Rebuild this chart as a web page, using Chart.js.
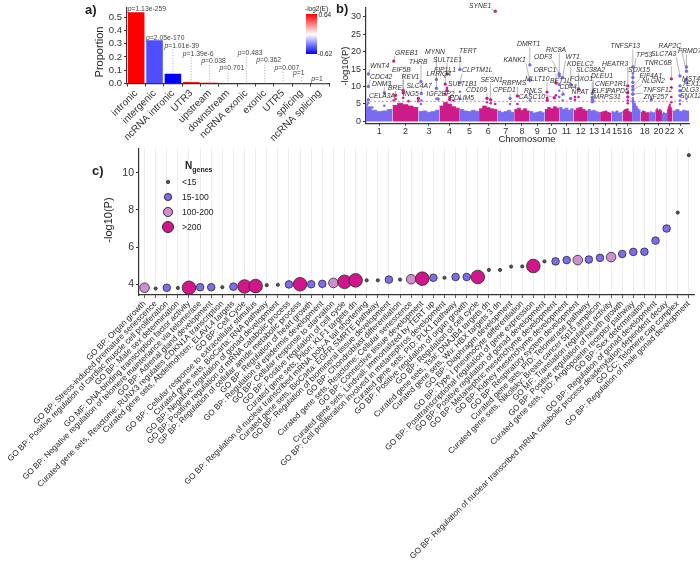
<!DOCTYPE html>
<html>
<head>
<meta charset="utf-8">
<title>Variant annotation, Manhattan plot and enrichment</title>
<script src="https://cdn.jsdelivr.net/npm/chart.js@4.4.1/dist/chart.umd.min.js"></script>
<style>
  body { margin: 0; background: #fff; font-family: "Liberation Sans", Arial, sans-serif; color: #222; }
  #page { position: relative; width: 700px; height: 574px; overflow: hidden; }
  canvas { position: absolute; }
  .txt { position: absolute; white-space: nowrap; line-height: 1; }
  .letter { font-weight: bold; font-size: 13px; }
  .vert { transform: translate(-50%, -50%) rotate(-90deg); }
  .dot { position: absolute; border-radius: 50%; box-sizing: border-box; border: 0.8px solid #2a2a2a; }
</style>
</head>
<body>
<div id="page">
  <canvas id="panelA" width="262" height="152" style="left:84px;top:0"></canvas>
  <canvas id="panelB" width="364" height="146" style="left:336px;top:0"></canvas>
  <canvas id="panelC" width="700" height="434" style="left:0;top:140px"></canvas>

  <div class="txt letter" style="left:85px;top:3px">a)</div>
  <div class="txt vert" style="left:99px;top:52px;font-size:11px">Proportion</div>
  <div class="txt" style="left:305px;top:6px;font-size:6.5px">-log2(E)</div>
  <div style="position:absolute;left:306px;top:14px;width:11px;height:40px;background:linear-gradient(to bottom,#ff0000 0%,#ffffff 51%,#0000ff 100%)"></div>
  <div class="txt" style="left:318.5px;top:11.5px;font-size:6.5px">0.64</div>
  <div class="txt" style="left:317.5px;top:50.5px;font-size:6.5px">-0.62</div>

  <div class="txt letter" style="left:336px;top:2px">b)</div>
  <div class="txt vert" style="left:345px;top:66px;font-size:9.5px">-log10(P)</div>
  <div class="txt" style="left:527px;top:139px;font-size:9.5px;transform:translate(-50%,-50%)">Chromosome</div>

  <div class="txt letter" style="left:92px;top:164px">c)</div>
  <div class="txt vert" style="left:108px;top:220px;font-size:11px">-log10(P)</div>
  <div id="legendC"></div>
</div>

<script>
Chart.defaults.font.family = '"Liberation Sans", Arial, sans-serif';
Chart.defaults.color = '#333';
Chart.defaults.animation = false;

// ---------- a) genomic context ----------
const regionLabels = ['intronic', 'intergenic', 'ncRNA intronic', 'UTR3', 'upstream', 'downstream',
  'ncRNA exonic', 'exonic', 'UTR5', 'splicing', 'ncRNA splicing'];
const regionProportion = [0.535, 0.326, 0.074, 0.012, 0.009, 0.004, 0.003, 0.003, 0.002, 0.001, 0.0005];
const regionLog2E = [0.64, -0.43, -0.62, 0.58, 0.26, 0.12, -0.15, -0.12, 0.1, 0.03, -0.2];
const regionPval = ['1.13e-259', '2.05e-170', '1.01e-39', '1.39e-6', '0.038', '0.701', '0.483', '0.362', '0.007', '1', '1'];

// ---------- b) manhattan ----------
const chromosomes = ['1','2','3','4','5','6','7','8','9','10','11','12','13','14','15','16','17','18','19','20','21','22','X'];
const chrLengthMb = [249, 243, 198, 191, 181, 171, 159, 146, 141, 136, 135, 134, 115, 107, 103, 90, 81, 78, 59, 63, 48, 51, 155];
const chrUnlabelled = ['17', '19', '21'];
// upper edge of the dense band of SNPs, read in 5 steps along each chromosome
const massTop = [
  [4.2, 3.2, 2.8, 3.0, 3.4], [4.6, 5.2, 4.8, 4.4, 4.0], [2.8, 3.0, 2.6, 2.8, 3.2], [4.4, 5.4, 5.0, 4.2, 3.8],
  [3.4, 3.0, 2.8, 3.2, 2.9], [3.6, 4.4, 4.0, 3.6, 3.4], [3.0, 2.6, 2.8, 3.2, 2.6], [3.4, 3.8, 3.2, 3.6, 3.0],
  [2.8, 2.4, 2.6, 2.8, 2.5], [3.4, 4.0, 3.6, 4.2, 3.8], [4.0, 3.4, 3.8, 3.2, 3.6], [3.2, 3.8, 4.0, 3.4, 3.0],
  [3.4, 3.0, 3.2, 2.8, 2.6], [2.6, 2.8, 3.0, 2.6, 2.4], [2.8, 2.6, 3.0, 2.4, 2.6], [3.0, 3.4, 3.6, 2.8, 2.6],
  [5.6, 5.2, 4.4, 3.6, 3.2], [2.6, 3.0, 2.8, 2.4, 2.6], [2.4, 2.8, 2.6, 2.4, 2.6], [3.2, 3.6, 3.0, 3.4, 3.0],
  [2.2, 2.6, 2.4, 2.2, 2.4], [3.4, 4.2, 5.0, 4.0, 3.2], [3.0, 3.4, 2.8, 3.2, 3.0]
];
// loose SNPs above the band
const looseChr = ['1','1','1','1','2','2','2','2','2','3','3','3','4','4','4','4','5','5','6','6','6','7','8','9','9',
  '10','10','10','11','11','11','12','12','12','13','13','16','16','17','17','17','17','17','17','22','22','22','X','X','X','X'];
const loosePosMb = [10, 22, 60, 172, 11, 28, 100, 150, 242, 24, 27, 169, 54, 70, 95, 130, 1.3, 1.3, 74, 109, 152, 120, 30, 0.8, 0.8,
  21.8, 23.5, 105, 0.2, 0.2, 32, 12, 12, 46, 41, 50, 50, 50, 7.5, 7.5, 7.5, 7.5, 7.5, 10, 40, 40, 40, 70, 70, 131, 131];
const looseLogP = [4.8, 5.3, 4.0, 4.5, 6.0, 6.4, 6.8, 5.8, 5.8, 5.0, 6.0, 6.5, 7.8, 9.6, 7.0, 6.0, 6.5, 8.5, 5.5, 5.2, 5.0, 5.0, 5.0, 6.0, 8.0,
  6.5, 6.8, 7.5, 7.0, 8.8, 6.0, 6.2, 7.0, 7.0, 5.5, 5.8, 5.2, 6.0, 6.0, 6.6, 8.0, 9.2, 13.8, 5.5, 5.5, 7.0, 9.8, 5.0, 6.0, 6.5, 11.0];
const hitGene = ['WNT4','CDC42','DNM3','CELA3A','GREB1','EIF5B','REV1','BRE','ING5','THRB','SLC4A7','MYNN','LRRIQ4','IGF2BP2',
  'SULT1E1','FIP1L1','SULT1B1','PDLIM5','TERT','CLPTM1L','SYNE1','CD109','SESN1','CPED1','RBPMS','DMRT1','KANK1',
  'MLLT10','CASC10','RNLS','OBFC1','ODF3','RIC8A','BET1L','WT1','CD44','KDELC2','NPAT','SLC38A2','FOXO1','ELF1','MRPS31',
  'DLEU1','HEATR3','CNEP1R1','PAPD5','TNFSF13','TP53','SOX15','EIF4A1','NLGN2','TNFSF12','ZNF257','TNRC6B',
  'RAP2C','FRMD7','SLC7A3','MST4','TEX11','DLG3','SNX12'];
const hitChr = ['1','1','1','1','2','2','2','2','2','3','3','3','3','3',
  '4','4','4','4','5','5','6','6','6','7','8','9','9',
  '10','10','10','10','11','11','11','11','11','11','11','12','13','13','13',
  '13','16','16','16','17','17','17','17','17','17','19','22',
  'X','X','X','X','X','X','X'];
const hitPosMb = [22.4, 22.4, 172.0, 22.3, 11.7, 100.0, 100.1, 28.2, 242.6, 24.2, 27.4, 169.5, 169.5, 185.5,
  70.7, 54.2, 70.6, 95.5, 1.3, 1.35, 152.5, 74.4, 109.3, 120.6, 30.0, 0.9, 0.7,
  21.8, 23.5, 90.1, 105.6, 0.2, 0.2, 0.2, 32.4, 35.2, 108.3, 108.0, 46.7, 41.1, 41.5, 41.3,
  50.9, 50.1, 50.0, 50.2, 7.46, 7.57, 7.49, 7.48, 7.31, 7.45, 22.2, 40.4,
  131.3, 131.2, 70.1, 131.2, 70.0, 69.7, 70.3];
const hitLogP = [13.6, 10.0, 8.2, 6.2, 17.3, 8.9, 8.2, 7.5, 6.6, 11.4, 8.0, 12.0, 9.5, 6.4,
  13.6, 10.7, 8.9, 6.3, 14.9, 11.1, 31.6, 6.6, 6.2, 6.6, 7.3, 16.2, 11.8,
  8.4, 6.0, 6.8, 11.0, 13.6, 13.0, 10.6, 12.6, 7.8, 10.6, 6.6, 9.3, 8.0, 6.9, 6.2,
  8.8, 10.2, 8.2, 7.0, 15.6, 12.6, 11.2, 10.0, 9.0, 7.8, 6.2, 12.2,
  14.4, 15.6, 13.0, 12.0, 10.2, 8.8, 7.4];
const suggestiveLogP = 5.75;

// ---------- c) gene-set enrichment ----------
const termLabels = [
  'GO BP: Organ growth',
  'GO BP: Stress-induced premature senescence',
  'GO BP: Positive regulation of cardiac muscle cell proliferation',
  'GO BP: Male sex determination',
  'GO MF: DNA-binding transcription factor activity',
  'GO BP: Negative regulation of telomere maintenance via telomerase',
  'GO BP: Adrenal gland development',
  'Curated gene sets, Reactome: RUNX3 regulates CDKN1A transcription',
  'Curated gene sets, Abdelmohsen: ELAVL4 targets',
  'GO BP: Cell Cycle',
  'GO BP: Cellular response to extracellular stimulus',
  'Curated gene sets, BioCarta: RNA pathway',
  'GO BP: Negative regulation of gonad development',
  'GO BP: Positive regulation of mRNA catabolic process',
  'GP BP: Regulation of cellular amide metabolic process',
  'GO BP: Regulation of heart growth',
  'GO BP: Regulation of epidermis development',
  'GO BP: Cellular response to starvation',
  'GO BP: Positive regulation of cell cycle',
  'Curated gene sets, Pilon: KLF1 targets dn',
  'GO BP: Regulation of nuclear transcribed mRNA poly-A tail shortening',
  'Curated gene sets, BioCarta: EGFR SMRTE pathway',
  'GO BP: Regulation of biomineral tissue development',
  'GO BP: Chondroblast differentiation',
  'Curated gene sets, Reactome: Cellular senescence',
  'GO BP: Connective tissue development',
  'Curated gene sets, Lindvall: Immortalized by TERT up',
  'GO BP: Cell proliferation involved in metanephros development',
  'Curated gene sets, PID: PLK1 pathway',
  'GO BP: Positive regulation of organ growth',
  'GO BP: Regulation of cell cycle',
  'Curated gene sets, Tsai: DNAJB4 targets dn',
  'Curated gene sets, Wu: HBX targets 3 dn',
  'GO BP: Diaphragm development',
  'GO BP: Type I pneumocyte differentiation',
  'GO BP: Posttranscriptional regulation of gene expression',
  'GO BP: Positive regulation of gonad development',
  'GO BP: Metanephric mesenchyme development',
  'GO BP: Kidney mesenchyme development',
  'GO BP: Respiratory system development',
  'Curated gene sets, PID: Telomerase pathway',
  'Curated gene sets, Nikolsky: Breast cancer 5p15 amplicon',
  'GO MF: Translation regulation activity',
  'GO BP: Positive regulation of hearth growth',
  'Curated gene sets, PID: Angiopoietin receptor pathway',
  'GO BP: Sex determination',
  'GO BP: Regulation of gonad development',
  'GO BP: Regulation of nuclear transcribed mRNA catabolic process deadenylation dependent decay',
  'GO CC: Telomere cap complex',
  'GO BP: Regulation of male gonad development'
];
const termLogP = [3.81, 3.77, 3.81, 3.80, 3.81, 3.84, 3.84, 3.84, 3.87, 3.88, 3.90, 3.95, 3.97, 3.99, 4.00, 4.00, 4.02,
  4.07, 4.13, 4.21, 4.21, 4.21, 4.25, 4.25, 4.27, 4.30, 4.35, 4.35, 4.39, 4.39, 4.39, 4.77, 4.77, 4.95, 4.96, 4.98,
  5.23, 5.23, 5.30, 5.30, 5.33, 5.42, 5.46, 5.63, 5.74, 5.75, 6.35, 7.00, 7.86, 10.95];
const termGenes = ['100-200','<15','15-100','<15','>200','15-100','15-100','<15','15-100','>200','>200','<15','<15',
  '15-100','>200','15-100','15-100','100-200','>200','>200','<15','<15','15-100','<15','100-200','>200','15-100','<15',
  '15-100','15-100','>200','<15','<15','<15','<15','>200','<15','15-100','15-100','100-200','15-100','15-100','100-200',
  '15-100','15-100','15-100','15-100','15-100','<15','<15'];
const genesGroups = ['<15', '15-100', '100-200', '>200'];

// ---------- styles and label placement ----------
const blue = '#7a6cf0', magenta = '#cc1c8a';
const groupRadius = { '<15': 1.6, '15-100': 3.8, '100-200': 4.8, '>200': 6.8 };
const groupFill = { '<15': '#555555', '15-100': '#7b6cf2', '100-200': '#cf8fcf', '>200': '#d0168a' };
const pTextLevel = [0.543, 0.328, 0.27, 0.21, 0.154, 0.098, 0.217, 0.158, 0.102, 0.061, 0.017];
// page position (left, middle) of each gene name
const geneLabelAt = {
  WNT4: [370, 66.5], CDC42: [370, 77], DNM3: [372, 84.5], CELA3A: [369, 96], GREB1: [395, 53], EIF5B: [392, 70.5],
  REV1: [401.5, 77], BRE: [388, 88], ING5: [403, 94], THRB: [409, 62], SLC4A7: [406.5, 86], MYNN: [425, 52.5],
  LRRIQ4: [426.5, 74], IGF2BP2: [426.5, 94.5], SULT1E1: [433, 60], FIP1L1: [434, 70.5], SULT1B1: [448, 84],
  PDLIM5: [449.5, 98], TERT: [459, 51.5], CLPTM1L: [462, 70.5], SYNE1: [469, 6], CD109: [466, 90.5], SESN1: [480.5, 80],
  CPED1: [493, 90.5], RBPMS: [502, 83.5], DMRT1: [517, 44.5], KANK1: [503.5, 60], MLLT10: [525, 79], CASC10: [518.5, 97.5],
  RNLS: [524, 91], OBFC1: [533.5, 70.5], ODF3: [534, 57.5], RIC8A: [546, 50.5], BET1L: [550, 81.5], WT1: [565.5, 57.5],
  CD44: [559.5, 87.5], KDELC2: [567, 64], NPAT: [571.5, 92.5], SLC38A2: [576, 70.5], FOXO1: [570, 79], ELF1: [592, 91],
  MRPS31: [593.5, 97.5], DLEU1: [591, 76.5], HEATR3: [602, 64], CNEP1R1: [595, 84.5], PAPD5: [607, 91],
  TNFSF13: [610.5, 46.5], TP53: [636, 55], SOX15: [628, 70.5], EIF4A1: [639.5, 76.5], NLGN2: [642, 81.5],
  TNFSF12: [643, 90], ZNF257: [643.5, 97.5], TNRC6B: [644.5, 63.5], RAP2C: [658.5, 46], FRMD7: [678, 51.5],
  SLC7A3: [651, 54], MST4: [682, 79], TEX11: [682, 84], DLG3: [681, 90], SNX12: [680, 96]
};

const axisLine = { display: true, color: '#333', width: 1.2 };
const tickMarks = { drawOnChartArea: false, tickLength: 3, tickColor: '#333' };

function fillFor(v) {
  if (v >= 0) {
    const c = Math.round(255 * (1 - Math.min(v / 0.64, 1)));
    return `rgb(255,${c},${c})`;
  }
  const c = Math.round(255 * (1 - Math.min(v / -0.62, 1)));
  return `rgb(${c},${c},255)`;
}

// ---------- panel a ----------
const pValueNotes = {
  id: 'pValueNotes',
  afterDatasetsDraw(chart) {
    const { ctx, scales: { x, y } } = chart;
    ctx.save();
    regionPval.forEach((p, i) => {
      const cx = x.getPixelForValue(i);
      const ty = y.getPixelForValue(pTextLevel[i]);
      const barTop = y.getPixelForValue(regionProportion[i]);
      if (barTop - ty > 5) {
        ctx.strokeStyle = '#999';
        ctx.lineWidth = 0.7;
        ctx.setLineDash([1.2, 1.5]);
        ctx.beginPath();
        ctx.moveTo(cx, ty + 2);
        ctx.lineTo(cx, barTop);
        ctx.stroke();
        ctx.setLineDash([]);
      }
      ctx.fillStyle = '#444';
      let tx = cx - 8.5;
      ctx.font = 'italic 6.8px "Liberation Sans", Arial, sans-serif';
      ctx.fillText('p', tx, ty);
      tx += ctx.measureText('p').width;
      ctx.font = '6.8px "Liberation Sans", Arial, sans-serif';
      ctx.fillText('=' + p, tx, ty);
    });
    ctx.restore();
  }
};

new Chart(document.getElementById('panelA'), {
  type: 'bar',
  data: {
    labels: regionLabels,
    datasets: [{ data: regionProportion, backgroundColor: regionLog2E.map(fillFor), borderWidth: 0,
      barPercentage: 0.9, categoryPercentage: 1 }]
  },
  options: {
    responsive: false,
    layout: { padding: { top: 6, right: 17, left: 0, bottom: 0 } },
    plugins: { legend: { display: false }, tooltip: { enabled: false } },
    scales: {
      x: {
        grid: tickMarks, border: axisLine,
        ticks: { font: { size: 10 }, color: '#333', minRotation: 45, maxRotation: 45, autoSkip: false, padding: 1 },
        afterFit: s => { s.height = 68.5; }
      },
      y: {
        min: 0, max: 0.57,
        afterBuildTicks: s => { s.ticks = [0, 0.1, 0.2, 0.3, 0.4, 0.5].map(v => ({ value: v })); },
        ticks: { font: { size: 9.5 }, color: '#333', padding: 2, callback: v => v.toFixed(1) },
        grid: tickMarks, border: axisLine,
        afterFit: s => { s.width = 43; }
      }
    }
  },
  plugins: [pValueNotes]
});

// ---------- panel b ----------
const chrStart = [];
let genomeMb = 0;
chrLengthMb.forEach(len => { chrStart.push(genomeMb); genomeMb += len; });
const cumOf = (chr, pos) => chrStart[chromosomes.indexOf(chr)] + pos;
const colourOf = chr => chromosomes.indexOf(chr) % 2 === 0 ? blue : magenta;

const massSets = chromosomes.map((chr, i) => {
  const tops = massTop[i];
  const step = chrLengthMb[i] / tops.length;
  const pts = tops.map((v, k) => ({ x: chrStart[i] + k * step, y: v }));
  pts.push({ x: chrStart[i] + chrLengthMb[i], y: tops[tops.length - 1] });
  const c = i % 2 === 0 ? blue : magenta;
  return { data: pts, stepped: true, fill: 'origin', backgroundColor: c, borderColor: c, borderWidth: 0.8,
    pointRadius: 0, order: 3 };
});
const hitCum = hitChr.map((c, i) => cumOf(c, hitPosMb[i]));

const suggestiveRule = {
  id: 'suggestiveRule',
  afterDatasetsDraw(chart) {
    const { ctx, chartArea, scales: { y } } = chart;
    const yy = y.getPixelForValue(suggestiveLogP);
    ctx.save();
    ctx.strokeStyle = '#ff5a6e';
    ctx.lineWidth = 0.8;
    ctx.setLineDash([2, 2]);
    ctx.beginPath();
    ctx.moveTo(chartArea.left, yy);
    ctx.lineTo(chartArea.right, yy);
    ctx.stroke();
    ctx.restore();
  }
};

const geneLabels = {
  id: 'geneLabels',
  afterDatasetsDraw(chart) {
    const { ctx, scales: { x, y } } = chart;
    const offX = chart.canvas.offsetLeft, offY = chart.canvas.offsetTop;
    ctx.save();
    ctx.font = 'italic 6.8px "Liberation Sans", Arial, sans-serif';
    ctx.textBaseline = 'middle';
    hitGene.forEach((g, i) => {
      const at = geneLabelAt[g];
      if (!at) return;
      const px = x.getPixelForValue(hitCum[i]), py = y.getPixelForValue(hitLogP[i]);
      const lx = at[0] - offX, ly = at[1] - offY;
      const w = ctx.measureText(g).width;
      const nx = Math.min(Math.max(px, lx), lx + w);
      const ny = Math.min(Math.max(py, ly - 3), ly + 3);
      if (Math.hypot(nx - px, ny - py) > 3) {
        ctx.strokeStyle = '#6f6f6f';
        ctx.lineWidth = 0.5;
        ctx.beginPath();
        ctx.moveTo(px, py);
        ctx.lineTo(nx, ny);
        ctx.stroke();
      }
      ctx.fillStyle = '#333';
      ctx.fillText(g, lx, ly);
    });
    ctx.restore();
  }
};

new Chart(document.getElementById('panelB'), {
  type: 'line',
  data: {
    datasets: [
      ...massSets,
      { data: looseChr.map((c, i) => ({ x: cumOf(c, loosePosMb[i]), y: looseLogP[i] })), showLine: false,
        pointRadius: 1.3, pointBorderWidth: 0, pointBackgroundColor: looseChr.map(colourOf), order: 2 },
      { data: hitCum.map((v, i) => ({ x: v, y: hitLogP[i] })), showLine: false,
        pointRadius: 1.7, pointBorderWidth: 0, pointBackgroundColor: hitChr.map(colourOf), order: 1 }
    ]
  },
  options: {
    responsive: false,
    layout: { padding: { top: 0, right: 11, left: 0, bottom: 0 } },
    plugins: { legend: { display: false }, tooltip: { enabled: false } },
    scales: {
      x: {
        type: 'linear', min: 0, max: genomeMb,
        afterBuildTicks: s => {
          s.ticks = chromosomes.map((c, i) => ({ value: chrStart[i] + chrLengthMb[i] / 2, chr: c }))
            .filter(t => !chrUnlabelled.includes(t.chr));
        },
        ticks: { autoSkip: false, maxRotation: 0, font: { size: 9 }, color: '#333', padding: 0,
          callback: (v, i, ticks) => ticks[i].chr },
        grid: { drawOnChartArea: false, tickLength: 2.5, tickColor: '#333' }, border: axisLine,
        afterFit: s => { s.height = 22.7; }
      },
      y: {
        min: -0.55, max: 32.7,
        afterBuildTicks: s => { s.ticks = [0, 5, 10, 15, 20, 25, 30].map(v => ({ value: v })); },
        ticks: { font: { size: 9 }, color: '#333', padding: 2 },
        grid: tickMarks, border: axisLine,
        afterFit: s => { s.width = 30; }
      }
    }
  },
  plugins: [suggestiveRule, geneLabels]
});

// ---------- panel c ----------
new Chart(document.getElementById('panelC'), {
  type: 'line',
  data: {
    labels: termLabels,
    datasets: [{
      data: termLogP, showLine: false,
      pointRadius: termGenes.map(g => groupRadius[g]),
      pointBackgroundColor: termGenes.map(g => groupFill[g]),
      pointBorderColor: '#2a2a2a', pointBorderWidth: 0.8
    }]
  },
  options: {
    responsive: false,
    layout: { padding: { top: 5, right: 2.6, left: 0, bottom: 0 } },
    plugins: { legend: { display: false }, tooltip: { enabled: false } },
    scales: {
      x: {
        offset: true,
        grid: { display: true, drawOnChartArea: true, offset: false, color: '#ebebeb', lineWidth: 0.8,
          tickLength: 3, tickColor: '#333' },
        border: axisLine,
        ticks: { font: { size: 8.2 }, color: '#222', minRotation: 45, maxRotation: 45, autoSkip: false, padding: 1 },
        afterFit: s => { s.height = 279; }
      },
      y: {
        min: 3.42, max: 11.32,
        afterBuildTicks: s => { s.ticks = [4, 6, 8, 10].map(v => ({ value: v })); },
        ticks: { font: { size: 10.5 }, color: '#333', padding: 2 },
        grid: tickMarks, border: axisLine,
        afterFit: s => { s.width = 139; }
      }
    }
  }
});

// size legend of panel c
const legend = document.getElementById('legendC');
let html = '<div class="txt" style="left:185px;top:161px;font-weight:bold;font-size:10px">N<span style="font-size:7px;position:relative;top:3px">genes</span></div>';
genesGroups.forEach((g, k) => {
  const r = Math.min(groupRadius[g], 6.2), cy = 182 + k * 15;
  html += `<div class="dot" style="left:${168 - r}px;top:${cy - r}px;width:${2 * r}px;height:${2 * r}px;background:${groupFill[g]}"></div>`;
  html += `<div class="txt" style="left:182px;top:${cy - 4.5}px;font-size:8.6px">${g.replace('<', '&lt;').replace('>', '&gt;')}</div>`;
});
legend.innerHTML = html;
</script>
</body>
</html>
